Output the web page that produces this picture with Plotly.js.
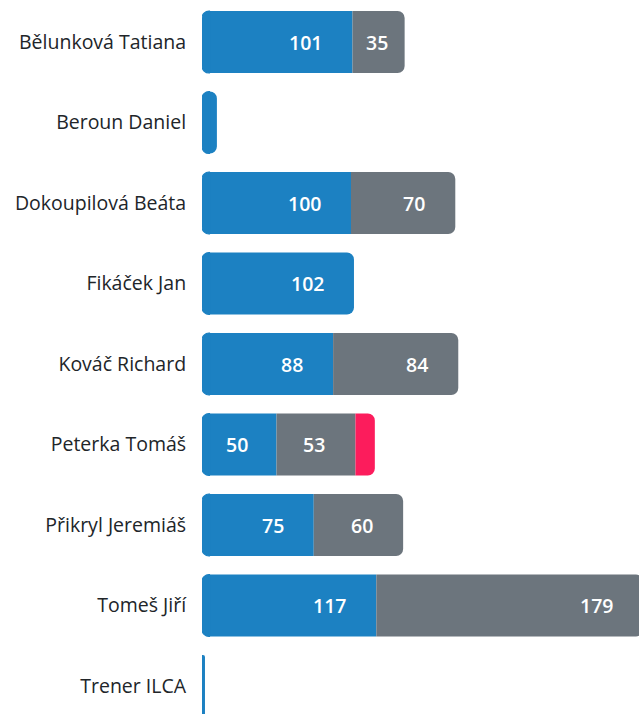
<!DOCTYPE html>
<html>
<head>
<meta charset="utf-8">
<script src="https://cdn.plot.ly/plotly-3.0.1.min.js"></script>
<style>html,body{margin:0;padding:0;background:#fff;}#chart{width:639px;height:714px;}</style>
</head>
<body>
<div id="chart"></div>
<script>
var names = ["Bělunková Tatiana","Beroun Daniel","Dokoupilová Beáta","Fikáček Jan","Kováč Richard","Peterka Tomáš","Přikryl Jeremiáš","Tomeš Jiří","Trener ILCA"];
var blueVals = [101, 10, 100, 102, 88, 50, 75, 117, 2];
var grayVals = [35, 0, 70, 0, 84, 53, 60, 179, 0];
var pinkVals = [0, 0, 0, 0, 0, 13, 0, 0, 0];
var labelMin = 20; // values below this are not labelled

var COLORS = {blue: "#1c81c2", gray: "#6c757d", pink: "#fc1c5c"};
var W = 639, H = 714, ML = 202;
var XMAX = 293.3;
var pxPerUnit = (W - ML) / XMAX;
var RADIUS = 7;
var P = 5; // split point inside the first segment (lets both stack ends be rounded)

var endBlue = blueVals.slice();
var endGray = blueVals.map(function(b, i){ return b + grayVals[i]; });
var main = blueVals.map(function(b){ return b >= P; });

function pick(arr, cond){ return arr.map(function(v, i){ return cond(i) ? v : null; }); }
function common(extra){
  var t = {type: "bar", orientation: "h", y: names, hoverinfo: "skip", showlegend: false};
  for (var k in extra) t[k] = extra[k];
  return t;
}
var traces = [
  common({x: pick(blueVals.map(function(b){ return b - P; }), function(i){ return main[i]; }),
          marker: {color: COLORS.blue, cornerradius: RADIUS, line: {width: 0}}}),
  common({x: pick(grayVals, function(i){ return main[i] && grayVals[i] > 0; }),
          marker: {color: COLORS.gray, cornerradius: RADIUS, line: {width: 0}}}),
  common({x: pick(pinkVals, function(i){ return main[i] && pinkVals[i] > 0; }),
          marker: {color: COLORS.pink, cornerradius: RADIUS, line: {width: 0}}}),
  common({x: pick(blueVals.map(function(){ return -P; }), function(i){ return main[i]; }),
          marker: {color: COLORS.blue, cornerradius: RADIUS, line: {width: 1.2, color: COLORS.blue}}}),
  common({x: pick(blueVals, function(i){ return !main[i]; }), xaxis: "x2",
          marker: {color: COLORS.blue, cornerradius: RADIUS, line: {width: 0}}})
];

var annotations = [];
function addLabels(vals, starts){
  vals.forEach(function(v, i){
    if (v < labelMin) return;
    var s = String(v);
    var tw = s.length * 11;
    var wpx = v * pxPerUnit;
    var padPx = Math.min(28, (wpx - tw) / 2);
    annotations.push({
      x: starts[i] + v - padPx / pxPerUnit - P, y: names[i],
      xref: "x", yref: "y", xanchor: "right", yanchor: "middle",
      text: s, showarrow: false,
      font: {family: "Open Sans, sans-serif", size: 19.5, color: "#ffffff", weight: 600}
    });
  });
}
addLabels(blueVals, blueVals.map(function(){ return 0; }));
addLabels(grayVals, endBlue);
addLabels(pinkVals, endGray);

var layout = {
  width: W, height: H,
  margin: {l: ML, r: 0, t: 0, b: 0, pad: 0},
  paper_bgcolor: "#ffffff", plot_bgcolor: "#ffffff",
  barmode: "relative", bargap: 0.23,
  showlegend: false,
  xaxis: {range: [-P, XMAX - P], visible: false, fixedrange: true},
  xaxis2: {range: [0, XMAX], visible: false, fixedrange: true, overlaying: "x"},
  yaxis: {
    type: "category", range: [8.348, -0.522],
    showgrid: false, zeroline: false, showline: false,
    ticks: "outside", ticklen: 11, tickcolor: "rgba(0,0,0,0)",
    tickfont: {family: "Open Sans, sans-serif", size: 19.5, color: "#212529"},
    fixedrange: true
  },
  annotations: annotations,
  font: {family: "Open Sans, sans-serif"}
};
Plotly.newPlot("chart", traces, layout, {staticPlot: true, displayModeBar: false});
</script>
</body>
</html>
